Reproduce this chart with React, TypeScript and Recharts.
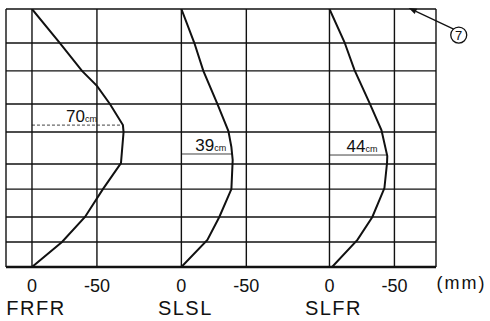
import React from 'react';
import { LineChart, Line, XAxis, YAxis, ReferenceLine, ReferenceDot } from 'recharts';

// heights in % of wall height (0 = bottom), deflections in mm
const frfrHeight = [100, 86.8, 76.0, 70.2, 63.2, 55.0, 52.3, 40.3, 30.2, 19.4, 9.7, 0];
const frfrDefl = [0, -21.5, -38.5, -50, -60, -70, -70.5, -68.5, -54.6, -40.8, -23.1, 0];

const slslHeight = [100, 86.8, 76.0, 63.2, 52.7, 46.5, 41.5, 30.2, 19.4, 10.5, 0];
const slslDefl = [0, -10, -16.9, -27.7, -36.2, -38.5, -39.5, -38.5, -29.2, -20, 0];

const slfrHeight = [100, 87.2, 76.4, 63.6, 53.1, 43.0, 40.3, 30.6, 19.4, 10.5, 0];
const slfrDefl = [0, -11.5, -19.2, -30.8, -40, -44.5, -44.3, -42.3, -33, -21.5, -2];

const panelNames = ['FRFR', 'SLSL', 'SLFR'];
const maxDefl = [70, 39, 44];
const maxDeflHeight = [55.0, 43.8, 43.4];
const tickValues = [0, -50];
const gridHeights = [0, 9.7, 19.4, 30.2, 39.9, 52.3, 63.2, 76.0, 86.8, 100];

// layout: where each panel's zero line sits on the shared axis
const panelOffset = [0, -115, -229];
const xLeft = 20;
const xRight = -311;
const ink = '#111';

const series = [
  { h: frfrHeight, d: frfrDefl },
  { h: slslHeight, d: slslDefl },
  { h: slfrHeight, d: slfrDefl },
].map((s, i) => s.h.map((h, j) => ({ u: panelOffset[i] + s.d[j], h })));

const ticks = panelOffset.flatMap((o) => tickValues.map((t) => o + t));

const PanelTick = (props: any) => {
  const { x, y, payload } = props;
  const idx = ticks.indexOf(payload.value);
  const panel = Math.floor(idx / 2);
  const isZero = idx % 2 === 0;
  return (
    <g>
      <text x={x} y={y + 23} textAnchor="middle" fontSize={18} fill={ink}>
        {String(tickValues[idx % 2])}
      </text>
      {isZero && (
        <text x={x + 4} y={y + 46} textAnchor="middle" fontSize={20} letterSpacing={1.5} fill={ink}>
          {panelNames[panel]}
        </text>
      )}
      {idx === ticks.length - 1 && (
        <text x={x + 67} y={y + 20} textAnchor="middle" fontSize={18} letterSpacing={2} fill={ink}>
          (mm)
        </text>
      )}
    </g>
  );
};

const dimLabel = (value: number) => (props: any) => {
  const vb = props.viewBox || {};
  const cx = vb.x + vb.width / 2 + 4;
  return (
    <text x={cx} y={vb.y - 3} textAnchor="middle" fontSize={17} fill={ink}>
      {value}
      <tspan fontSize={9}>cm</tspan>
    </text>
  );
};

const arrowShape = (props: any) => {
  const { x1, y1, x2, y2 } = props;
  const ang = Math.atan2(y2 - y1, x2 - x1);
  const len = 8;
  const w = 3;
  const bx = x2 - len * Math.cos(ang);
  const by = y2 - len * Math.sin(ang);
  const px = -Math.sin(ang) * w;
  const py = Math.cos(ang) * w;
  return (
    <g>
      <line x1={x1} y1={y1} x2={bx} y2={by} stroke={ink} strokeWidth={1.3} />
      <polygon points={`${x2},${y2} ${bx + px},${by + py} ${bx - px},${by - py}`} fill={ink} />
    </g>
  );
};

const App: React.FC = () => {
  return (
    <div
      style={{
        position: 'absolute',
        left: 0,
        top: 0,
        background: '#fff',
        fontFamily: "'Liberation Sans', Arial, sans-serif",
      }}
    >
      <LineChart width={490} height={321} margin={{ top: 9, right: 54, left: 6, bottom: 0 }}>
        <XAxis
          type="number"
          dataKey="u"
          domain={[xRight, xLeft]}
          reversed
          allowDataOverflow
          ticks={ticks}
          interval={0}
          tick={<PanelTick />}
          tickLine={false}
          axisLine={false}
          tickSize={0}
          height={54}
        />
        <YAxis type="number" dataKey="h" domain={[0, 100]} allowDataOverflow hide />

        {gridHeights.map((h, i) => (
          <ReferenceLine
            key={`h-${i}`}
            y={h}
            stroke={ink}
            strokeWidth={i === 0 ? 2.4 : 1.4}
            ifOverflow="visible"
          />
        ))}
        {[xLeft, ...ticks, xRight].map((x, i) => (
          <ReferenceLine key={`v-${i}`} x={x} stroke={ink} strokeWidth={1.4} ifOverflow="visible" />
        ))}

        {panelOffset.map((o, i) => (
          <ReferenceLine
            key={`dim-${i}`}
            segment={[
              { x: o, y: maxDeflHeight[i] },
              { x: o - maxDefl[i], y: maxDeflHeight[i] },
            ]}
            stroke={ink}
            strokeWidth={0.8}
            strokeDasharray={i === 0 ? '3 2' : undefined}
            ifOverflow="visible"
            label={dimLabel(maxDefl[i])}
          />
        ))}

        {series.map((data, i) => (
          <Line
            key={panelNames[i]}
            data={data}
            dataKey="h"
            type="linear"
            stroke={ink}
            strokeWidth={2}
            dot={false}
            isAnimationActive={false}
          />
        ))}

        <ReferenceLine
          segment={[
            { x: -324.6, y: 92.2 },
            { x: -290, y: 100.4 },
          ]}
          ifOverflow="visible"
          shape={arrowShape}
        />
        <ReferenceDot
          x={-328.5}
          y={89.9}
          r={8}
          fill="none"
          stroke={ink}
          strokeWidth={1.3}
          ifOverflow="visible"
          label={{ value: '7', position: 'center', fontSize: 13, fill: ink }}
        />
      </LineChart>
    </div>
  );
};

export default App;
